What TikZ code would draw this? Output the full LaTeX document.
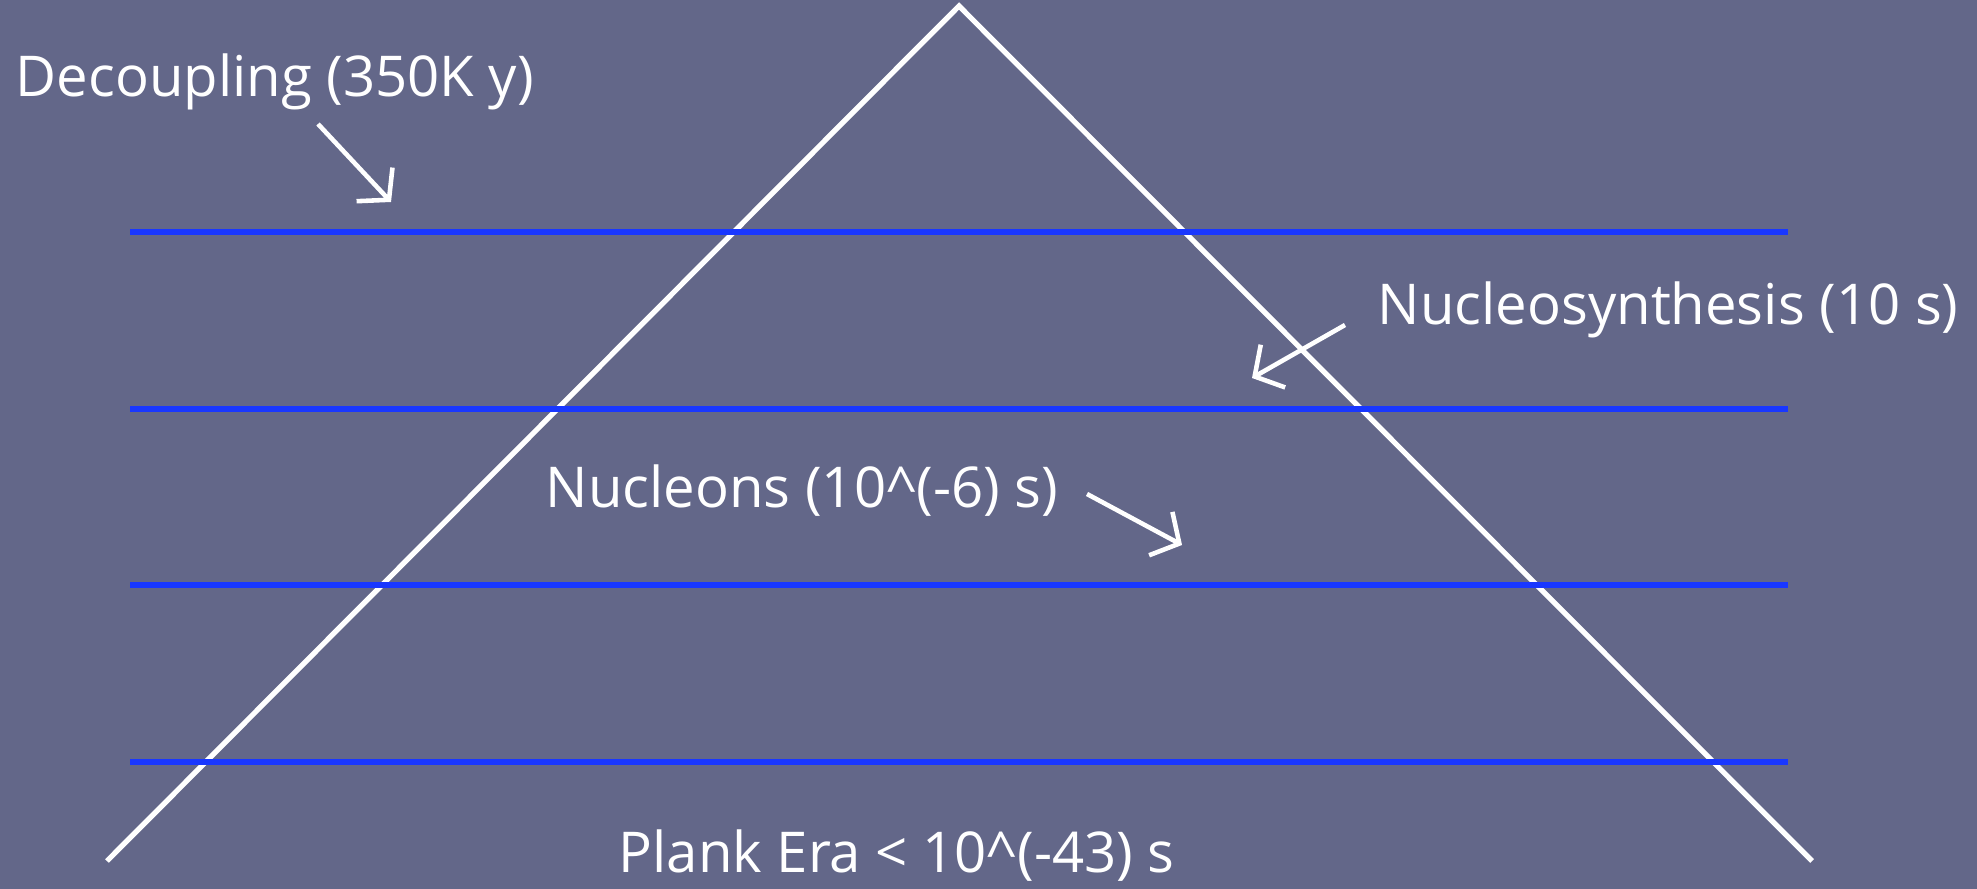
\documentclass[tikz,border=0pt]{standalone}
\usepackage{fontspec}
\setmainfont{Open Sans}
\usetikzlibrary{arrows.meta}
\definecolor{slate}{RGB}{99,103,137}
\definecolor{eraline}{RGB}{25,55,255}
\begin{document}
\begin{tikzpicture}[
x=0.01cm, y=-0.01cm,
cone/.style={draw=white, line width=1.5pt},
boundary/.style={draw=eraline, line width=1.45pt},
label/.style={text=white, font=\fontsize{16}{18}\selectfont, inner sep=0pt, anchor=base west},
pointer/.style={draw=white, line width=1.3pt, -{Straight Barb[length=6pt,width=14pt]}}
]
\useasboundingbox[fill=slate] (0,0) rectangle (1977,889);

% light cone
\coordinate (apex) at (959,6);
\coordinate (left-foot) at (107,861);
\coordinate (right-foot) at (1812,861);
\draw[cone] (left-foot) -- (apex) -- (right-foot);

% era boundaries
\foreach \y [count=\i] in {232,409,585,762}{
	\coordinate (b\i-w) at (130,\y);
	\coordinate (b\i-e) at (1788,\y);
	\draw[boundary] (b\i-w) -- (b\i-e);
}

% labels
\node[label] (decoupling) at (15,97) {Decoupling (350K y)};
\node[label] (nucleosynthesis) at (1377,325) {Nucleosynthesis (10 s)};
\node[label] (nucleons) at (545,508) {Nucleons (10\textasciicircum(-6) s)};
\node[label] (plank) at (618,872) {Plank Era < 10\textasciicircum(-43) s};

% pointers
\coordinate (decoupling-from) at (318,124);
\coordinate (decoupling-to) at (391,202);
\coordinate (nucleosynthesis-from) at (1345,325);
\coordinate (nucleosynthesis-to) at (1252,378);
\coordinate (nucleons-from) at (1087,494);
\coordinate (nucleons-to) at (1182,545);
\draw[pointer] (decoupling-from) -- (decoupling-to);
\draw[pointer] (nucleosynthesis-from) -- (nucleosynthesis-to);
\draw[pointer] (nucleons-from) -- (nucleons-to);
\end{tikzpicture}
\end{document}
